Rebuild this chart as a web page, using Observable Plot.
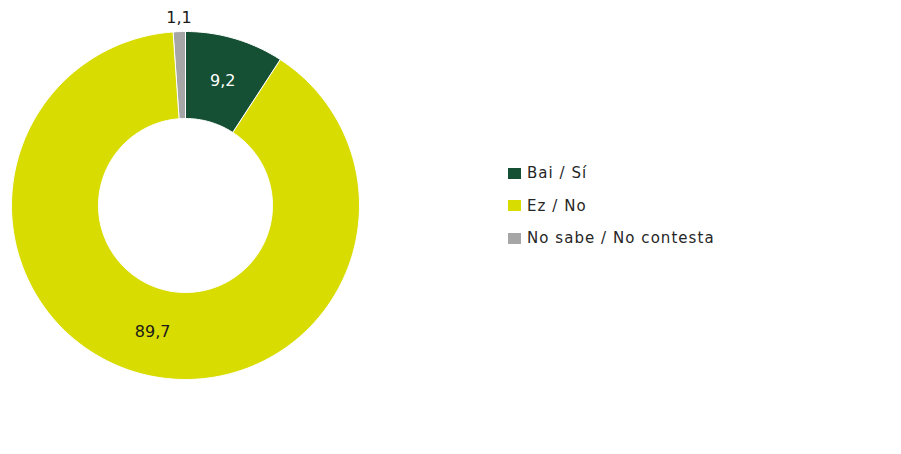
<!DOCTYPE html>
<html>
<head>
<meta charset="utf-8">
<script src="https://cdn.jsdelivr.net/npm/d3@7"></script>
<script src="https://cdn.jsdelivr.net/npm/@observablehq/plot@0.6"></script>
<style>
  html, body { margin: 0; padding: 0; background: #fff; }
  #wrap { position: relative; width: 901px; height: 454px; font-family: "DejaVu Sans", sans-serif; }
  #legend { position: absolute; left: 508px; top: 162px; }
  .item { display: flex; align-items: center; height: 22px; margin-bottom: 10.5px; font-size: 15px; letter-spacing: 1.05px; color: #262626; }
  .sw { width: 13px; height: 11px; margin-right: 6px; }
</style>
</head>
<body>
<div id="wrap"></div>
<script>
const categories = ["Bai / Sí", "Ez / No", "No sabe / No contesta"];
const values = [9.2, 89.7, 1.1];
const labels = ["9,2", "89,7", "1,1"];
const colors = ["#165034", "#d9dc00", "#a6a6a6"];

const inner = 0.5, outer = 1;
const total = d3.sum(values);
let acc = 0;
const slices = categories.map((c, i) => {
  const a0 = acc / total * 2 * Math.PI;
  acc += values[i];
  const a1 = acc / total * 2 * Math.PI;
  return {cat: c, a0, a1, value: values[i], label: labels[i], i};
});

// polygon outline points for each slice (geometry only)
const pts = [];
for (const s of slices) {
  const n = Math.max(4, Math.ceil((s.a1 - s.a0) / (Math.PI / 180)));
  for (let k = 0; k <= n; k++) {
    const a = s.a0 + (s.a1 - s.a0) * k / n;
    pts.push({cat: s.cat, x: outer * Math.sin(a), y: outer * Math.cos(a)});
  }
  for (let k = n; k >= 0; k--) {
    const a = s.a0 + (s.a1 - s.a0) * k / n;
    pts.push({cat: s.cat, x: inner * Math.sin(a), y: inner * Math.cos(a)});
  }
}

const labelData = slices.map(s => {
  const m = (s.a0 + s.a1) / 2;
  const r = s.value < 3 ? 1.08 : 0.75;
  return {x: r * Math.sin(m), y: r * Math.cos(m), label: s.label, fill: s.i === 0 ? "#fff" : "#1a1a1a"};
});

const chart = Plot.plot({
  width: 901,
  height: 454,
  marginLeft: 11,
  marginRight: 542,
  marginTop: 31,
  marginBottom: 75,
  x: {domain: [-1, 1], axis: null},
  y: {domain: [-1, 1], axis: null},
  color: {domain: categories, range: colors},
  style: {fontFamily: "DejaVu Sans, sans-serif", background: "#fff"},
  marks: [
    Plot.line(pts, {x: "x", y: "y", z: "cat", fill: "cat", stroke: "#fff", strokeWidth: 1, curve: "linear-closed"}),
    Plot.text(labelData, {x: "x", y: "y", text: "label", fill: "fill", fontSize: 16})
  ]
});

const wrap = document.getElementById("wrap");
wrap.appendChild(chart);
const legend = document.createElement("div");
legend.id = "legend";
categories.forEach((c, i) => {
  const it = document.createElement("div");
  it.className = "item";
  const sw = document.createElement("span");
  sw.className = "sw";
  sw.style.background = colors[i];
  const tx = document.createElement("span");
  tx.textContent = c;
  it.appendChild(sw); it.appendChild(tx);
  legend.appendChild(it);
});
wrap.appendChild(legend);
</script>
</body>
</html>
